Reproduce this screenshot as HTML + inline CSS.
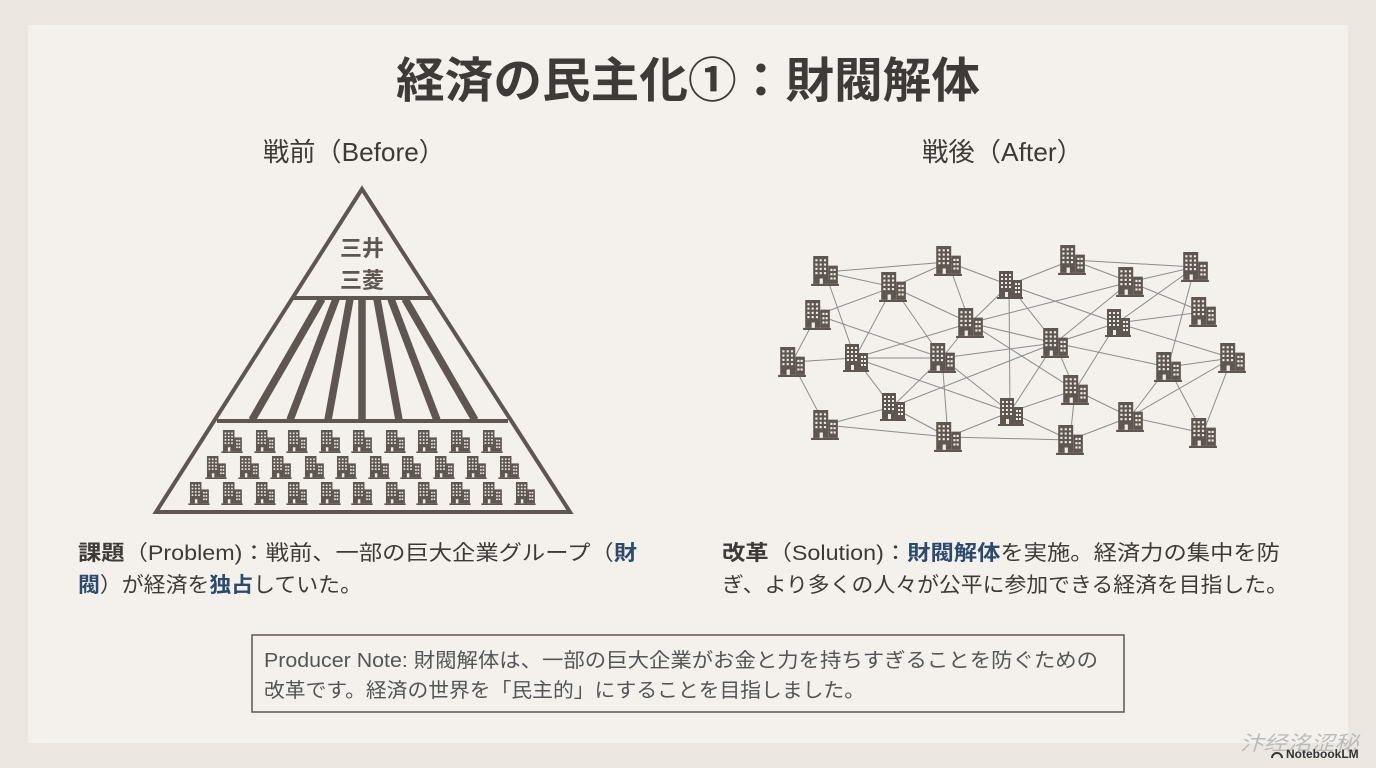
<!DOCTYPE html>
<html><head><meta charset="utf-8"><style>
html,body{margin:0;padding:0;background:#ebe7e0;}
svg{display:block;}
text{font-family:"Liberation Sans","Noto Sans CJK JP",sans-serif;}
</style></head><body>
<svg width="1376" height="768" viewBox="0 0 1376 768" xmlns="http://www.w3.org/2000/svg">
<defs>
<symbol id="b" viewBox="0 0 26 28">
<rect x="2" y="0" width="14" height="26" fill="#5e5650"/>
<rect x="16" y="9" width="9" height="17" fill="#5e5650"/>
<rect x="0" y="26" width="26" height="2" fill="#5e5650"/>
<g fill="#efebe5">
<rect x="4" y="3" width="2" height="2"/><rect x="8" y="3" width="2" height="2"/><rect x="12" y="3" width="2" height="2"/>
<rect x="4" y="7" width="2" height="2"/><rect x="8" y="7" width="2" height="2"/><rect x="12" y="7" width="2" height="2"/>
<rect x="4" y="11" width="2" height="2"/><rect x="8" y="11" width="2" height="2"/><rect x="12" y="11" width="2" height="2"/>
<rect x="4" y="15" width="2" height="2"/><rect x="8" y="15" width="2" height="2"/><rect x="12" y="15" width="2" height="2"/>
<rect x="8" y="21" width="3" height="5"/>
<rect x="18" y="12" width="2" height="2"/><rect x="21" y="12" width="2" height="2"/>
<rect x="18" y="16" width="2" height="2"/><rect x="21" y="16" width="2" height="2"/>
<rect x="18" y="20" width="2" height="2"/><rect x="21" y="20" width="2" height="2"/>
</g>
</symbol>
</defs>
<rect x="28" y="25" width="1320" height="718" fill="#f4f1ec"/>

<text x="396" y="97" font-size="48" font-weight="bold" fill="#3d3a37" textLength="584" lengthAdjust="spacingAndGlyphs">経済の民主化①：財閥解体</text>
<text x="263" y="161" font-size="26" fill="#3d3a37" textLength="182" lengthAdjust="spacingAndGlyphs">戦前（Before）</text>
<text x="922" y="161" font-size="26" fill="#3d3a37" textLength="161" lengthAdjust="spacingAndGlyphs">戦後（After）</text>

<!-- pyramid -->
<g stroke="#5e5650" fill="none" stroke-linejoin="miter">
<polygon points="362,189 156,512 570,512" stroke-width="4"/>
<line x1="292" y1="298" x2="432" y2="298" stroke-width="4"/>
<line x1="217" y1="421" x2="508" y2="421" stroke-width="4"/>
<g stroke-width="7.5">
<line x1="322" y1="299" x2="252" y2="420"/>
<line x1="336" y1="299" x2="290" y2="420"/>
<line x1="350" y1="299" x2="328" y2="420"/>
<line x1="362" y1="299" x2="362" y2="420"/>
<line x1="377" y1="299" x2="399" y2="420"/>
<line x1="391" y1="299" x2="437" y2="420"/>
<line x1="405" y1="299" x2="475" y2="420"/>
</g>
</g>
<text x="362" y="256" font-size="22" font-weight="bold" fill="#5e5650" text-anchor="middle">三井</text>
<text x="362" y="288" font-size="22" font-weight="bold" fill="#5e5650" text-anchor="middle">三菱</text>
<g>
<use href="#b" x="221" y="430" width="22" height="23"/><use href="#b" x="254" y="430" width="22" height="23"/><use href="#b" x="286" y="430" width="22" height="23"/><use href="#b" x="319" y="430" width="22" height="23"/><use href="#b" x="351" y="430" width="22" height="23"/><use href="#b" x="384" y="430" width="22" height="23"/><use href="#b" x="416" y="430" width="22" height="23"/><use href="#b" x="449" y="430" width="22" height="23"/><use href="#b" x="481" y="430" width="22" height="23"/>
<use href="#b" x="205" y="456" width="22" height="23"/><use href="#b" x="238" y="456" width="22" height="23"/><use href="#b" x="270" y="456" width="22" height="23"/><use href="#b" x="303" y="456" width="22" height="23"/><use href="#b" x="335" y="456" width="22" height="23"/><use href="#b" x="368" y="456" width="22" height="23"/><use href="#b" x="400" y="456" width="22" height="23"/><use href="#b" x="433" y="456" width="22" height="23"/><use href="#b" x="465" y="456" width="22" height="23"/><use href="#b" x="498" y="456" width="22" height="23"/>
<use href="#b" x="188" y="482" width="22" height="23"/><use href="#b" x="221" y="482" width="22" height="23"/><use href="#b" x="254" y="482" width="22" height="23"/><use href="#b" x="286" y="482" width="22" height="23"/><use href="#b" x="319" y="482" width="22" height="23"/><use href="#b" x="351" y="482" width="22" height="23"/><use href="#b" x="384" y="482" width="22" height="23"/><use href="#b" x="416" y="482" width="22" height="23"/><use href="#b" x="449" y="482" width="22" height="23"/><use href="#b" x="481" y="482" width="22" height="23"/><use href="#b" x="514" y="482" width="22" height="23"/>
</g>

<!-- network edges -->
<g stroke="#8c8c8c" stroke-width="1">
<line x1="825" y1="272" x2="948" y2="262"/><line x1="825" y1="272" x2="893" y2="287"/><line x1="825" y1="272" x2="855" y2="358"/>
<line x1="893" y1="287" x2="948" y2="262"/><line x1="893" y1="287" x2="817" y2="315"/><line x1="893" y1="287" x2="855" y2="358"/><line x1="893" y1="287" x2="970" y2="323"/><line x1="893" y1="287" x2="942" y2="358"/>
<line x1="948" y1="262" x2="1009" y2="285"/><line x1="948" y1="262" x2="970" y2="323"/>
<line x1="1009" y1="285" x2="1072" y2="260"/><line x1="1009" y1="285" x2="1117" y2="323"/><line x1="1009" y1="285" x2="1055" y2="343"/><line x1="1009" y1="285" x2="1010" y2="412"/><line x1="1009" y1="285" x2="970" y2="323"/>
<line x1="1072" y1="260" x2="1195" y2="267"/><line x1="1072" y1="260" x2="1130" y2="282"/>
<line x1="1195" y1="267" x2="1130" y2="282"/><line x1="1195" y1="267" x2="1117" y2="323"/><line x1="1195" y1="267" x2="1168" y2="367"/>
<line x1="1130" y1="282" x2="970" y2="323"/><line x1="1130" y1="282" x2="1055" y2="343"/><line x1="1130" y1="282" x2="1203" y2="312"/>
<line x1="1117" y1="323" x2="1203" y2="312"/><line x1="1117" y1="323" x2="1055" y2="343"/><line x1="1117" y1="323" x2="1232" y2="358"/><line x1="1117" y1="323" x2="1075" y2="390"/>
<line x1="817" y1="315" x2="942" y2="358"/><line x1="817" y1="315" x2="792" y2="362"/>
<line x1="792" y1="362" x2="855" y2="358"/><line x1="792" y1="362" x2="825" y2="425"/>
<line x1="855" y1="358" x2="970" y2="323"/><line x1="855" y1="358" x2="942" y2="358"/><line x1="855" y1="358" x2="892" y2="407"/><line x1="855" y1="358" x2="1010" y2="412"/>
<line x1="970" y1="323" x2="1055" y2="343"/><line x1="970" y1="323" x2="1075" y2="390"/><line x1="970" y1="323" x2="942" y2="358"/>
<line x1="942" y1="358" x2="1055" y2="343"/><line x1="942" y1="358" x2="892" y2="407"/><line x1="942" y1="358" x2="1010" y2="412"/><line x1="942" y1="358" x2="948" y2="437"/>
<line x1="1055" y1="343" x2="1168" y2="367"/><line x1="1055" y1="343" x2="1075" y2="390"/><line x1="1055" y1="343" x2="892" y2="407"/><line x1="1055" y1="343" x2="1010" y2="412"/>
<line x1="1168" y1="367" x2="1232" y2="358"/><line x1="1168" y1="367" x2="1130" y2="417"/>
<line x1="1232" y1="358" x2="1130" y2="417"/><line x1="1232" y1="358" x2="1203" y2="433"/><line x1="1168" y1="367" x2="1203" y2="433"/>
<line x1="1075" y1="390" x2="1010" y2="412"/><line x1="1075" y1="390" x2="1130" y2="417"/><line x1="1075" y1="390" x2="1070" y2="440"/>
<line x1="892" y1="407" x2="825" y2="425"/><line x1="892" y1="407" x2="948" y2="437"/>
<line x1="1010" y1="412" x2="948" y2="437"/><line x1="1010" y1="412" x2="1070" y2="440"/>
<line x1="825" y1="425" x2="948" y2="437"/><line x1="948" y1="437" x2="1070" y2="440"/>
<line x1="1130" y1="417" x2="1070" y2="440"/><line x1="1130" y1="417" x2="1203" y2="433"/>
</g>
<g>
<use href="#b" x="811" y="256" width="28" height="30"/>
<use href="#b" x="934" y="246" width="28" height="30"/>
<use href="#b" x="879" y="272" width="28" height="30"/>
<use href="#b" x="997" y="270" width="26" height="30"/>
<use href="#b" x="1058" y="245" width="28" height="30"/>
<use href="#b" x="1181" y="252" width="28" height="30"/>
<use href="#b" x="1116" y="267" width="28" height="30"/>
<use href="#b" x="803" y="300" width="28" height="30"/>
<use href="#b" x="956" y="308" width="28" height="30"/>
<use href="#b" x="1105" y="308" width="26" height="30"/>
<use href="#b" x="1189" y="297" width="28" height="30"/>
<use href="#b" x="1041" y="328" width="28" height="30"/>
<use href="#b" x="778" y="347" width="28" height="30"/>
<use href="#b" x="843" y="343" width="26" height="30"/>
<use href="#b" x="928" y="343" width="28" height="30"/>
<use href="#b" x="1154" y="352" width="28" height="30"/>
<use href="#b" x="1218" y="343" width="28" height="30"/>
<use href="#b" x="1061" y="375" width="28" height="30"/>
<use href="#b" x="880" y="392" width="26" height="30"/>
<use href="#b" x="998" y="397" width="26" height="30"/>
<use href="#b" x="1116" y="402" width="28" height="30"/>
<use href="#b" x="811" y="410" width="28" height="30"/>
<use href="#b" x="934" y="422" width="28" height="30"/>
<use href="#b" x="1056" y="425" width="28" height="30"/>
<use href="#b" x="1189" y="418" width="28" height="30"/>
</g>

<!-- text blocks -->
<g font-size="21" fill="#3d3a37">
<text x="78" y="560" textLength="559" lengthAdjust="spacingAndGlyphs"><tspan font-weight="bold">課題</tspan>（Problem)：戦前、一部の巨大企業グループ（<tspan font-weight="bold" fill="#2c4a6e">財</tspan></text>
<text x="78" y="592" textLength="284" lengthAdjust="spacingAndGlyphs"><tspan font-weight="bold" fill="#2c4a6e">閥</tspan>）が経済を<tspan font-weight="bold" fill="#2c4a6e">独占</tspan>していた。</text>
<text x="722" y="560" textLength="558" lengthAdjust="spacingAndGlyphs"><tspan font-weight="bold">改革</tspan>（Solution)：<tspan font-weight="bold" fill="#2c4a6e">財閥解体</tspan>を実施。経済力の集中を防</text>
<text x="722" y="592" textLength="566" lengthAdjust="spacingAndGlyphs">ぎ、より多くの人々が公平に参加できる経済を目指した。</text>
</g>
<rect x="252" y="635" width="872" height="77" fill="none" stroke="#5e5650" stroke-width="1.5"/>
<g font-size="20" fill="#555">
<text x="264" y="667" textLength="834" lengthAdjust="spacingAndGlyphs">Producer Note: 財閥解体は、一部の巨大企業がお金と力を持ちすぎることを防ぐための</text>
<text x="264" y="697" textLength="601" lengthAdjust="spacingAndGlyphs">改革です。経済の世界を「民主的」にすることを目指しました。</text>
</g>
<text x="1240" y="750" font-size="20" fill="#bbb" font-style="italic" textLength="118" lengthAdjust="spacingAndGlyphs">汴经洺涩秘</text>
<text x="1286" y="758" font-size="12" fill="#333" font-weight="bold">NotebookLM</text>
<path d="M1272,758 a5,5 0 0 1 10,0" fill="none" stroke="#333" stroke-width="2"/>
</svg>
</body></html>
